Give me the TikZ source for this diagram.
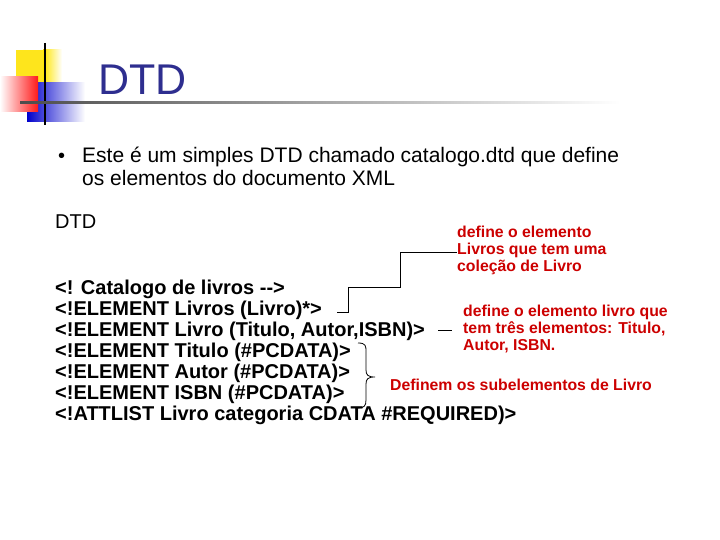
\documentclass[tikz,border=0pt]{standalone}
\usepackage{fontspec}
\setmainfont{Liberation Sans}
\definecolor{ttl}{RGB}{46,46,143}
\definecolor{rd}{RGB}{204,0,0}
\tikzset{
 code/.style={anchor=west,inner sep=0pt,font=\fontsize{20}{22}\selectfont\bfseries},
 note/.style={anchor=north west,inner sep=0pt,align=left,text=rd,font=\fontsize{15.8}{17}\selectfont\bfseries},
 conn/.style={draw=black,line width=0.9pt}
}
\begin{document}
\begin{tikzpicture}[x=1pt,y=-1pt]
\useasboundingbox (0,0) rectangle (720,540);
% logo
\fill[yellow!85!orange, opacity=0.9] (16,50) rectangle (43,84);
\shade[left color=yellow!80!orange,right color=white] (43,50) rectangle (62,84);
\shade[left color=blue!80!black,right color=white] (27,83) rectangle (85,122);
\shade[left color=white,right color=red!90] (0,77) rectangle (38,112);
\draw[line width=1.5pt] (45,43) -- (45,125);
\shade[left color=black!70,right color=white] (20,101.8) rectangle (620,104);
\node[anchor=west,inner sep=0pt,text=ttl,font=\fontsize{43}{48}\selectfont] (title) at (98,80) {DTD};
% bullet
\node[anchor=west,inner sep=0pt,font=\fontsize{20}{22}\selectfont] (bul) at (58,158) {\textbullet};
\node[anchor=north west,inner sep=0pt,align=left,font=\fontsize{21}{23}\selectfont] (btxt) at (82,147) {Este é um simples DTD chamado catalogo.dtd que define\\\hspace*{0pt}os elementos do documento XML};
\node[code,font=\fontsize{20}{22}\selectfont] (dtd) at (55,222) {DTD};
\node[code] (l1) at (55,289) {<! Catalogo de livros -{}->};
\node[code] (l2) at (55,310) {<!ELEMENT Livros (Livro)*>};
\node[code] (l3) at (55,331) {<!ELEMENT Livro (Titulo, Autor,ISBN)>};
\node[code] (l4) at (55,352) {<!ELEMENT Titulo (\#PCDATA)>};
\node[code] (l5) at (55,373) {<!ELEMENT Autor (\#PCDATA)>};
\node[code] (l6) at (55,394) {<!ELEMENT ISBN (\#PCDATA)>};
\node[code] (l7) at (55,415) {<!ATTLIST Livro categoria CDATA \#REQUIRED)>};
% notes
\node[note] (n1) at (457,226) {define o elemento\\Livros que tem uma\\coleção de Livro};
\node[note] (n2) at (463,305) {define o elemento livro que\\tem três elementos: Titulo,\\Autor, ISBN.};
\node[note,anchor=west] (n3) at (390,385) {Definem os subelementos de Livro};
% connectors
\coordinate (c1) at (337,312);
\draw[conn] (c1) -- (348,312) -- (348,287) -- (400,287) -- (400,252) -- (n1.west |- 0,252);
\coordinate (c2) at (438,330);
\draw[conn] (c2) -- (452,330);
\draw[conn,line width=0.8pt] (358,343) .. controls (366,343) and (366,346) .. (366,352) -- (366,370)
 .. controls (366,375) and (368,377) .. (375,377)
 .. controls (368,377) and (366,379) .. (366,384) -- (366,400)
 .. controls (366,406) and (364,408) .. (358,408);
\end{tikzpicture}
\end{document}
